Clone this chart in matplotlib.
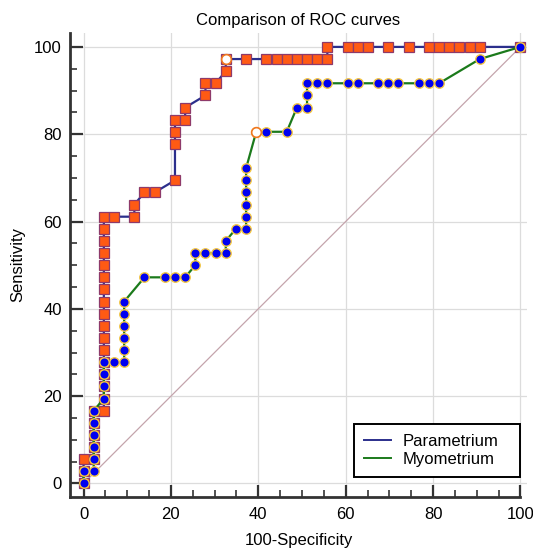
import matplotlib
matplotlib.use('Agg')
import matplotlib.pyplot as plt
from matplotlib.lines import Line2D

plt.rcParams['font.family'] = ['Liberation Sans', 'DejaVu Sans']
plt.rcParams['font.size'] = 12

# Parametrium ROC points (100-Specificity, Sensitivity)
para_x = [0, 0, 0, 2.33, 2.33, 2.33, 2.33, 2.33,
          4.65, 4.65, 4.65, 4.65, 4.65, 4.65, 4.65, 4.65, 4.65,
          4.65, 4.65, 4.65, 4.65, 4.65, 4.65, 4.65, 4.65,
          6.98, 11.63, 11.63, 13.95, 16.28, 20.93, 20.93, 20.93, 20.93,
          23.26, 23.26, 27.91, 27.91, 30.23, 32.56, 32.56, 37.21,
          41.86, 44.19, 46.51, 48.84, 51.16, 53.49, 55.81, 55.81,
          60.47, 62.79, 65.12, 69.77, 74.42, 79.07, 81.40, 83.72,
          86.05, 88.37, 90.70, 100]
para_y = [0, 2.78, 5.56, 5.56, 8.33, 11.11, 13.89, 16.67,
          16.67, 19.44, 22.22, 25.00, 27.78, 30.56, 33.33, 36.11, 38.89,
          41.67, 44.44, 47.22, 50.00, 52.78, 55.56, 58.33, 61.11,
          61.11, 61.11, 63.89, 66.67, 66.67, 69.44, 77.78, 80.56, 83.33,
          83.33, 86.11, 88.89, 91.67, 91.67, 94.44, 97.22, 97.22,
          97.22, 97.22, 97.22, 97.22, 97.22, 97.22, 97.22, 100,
          100, 100, 100, 100, 100, 100, 100, 100,
          100, 100, 100, 100]
para_best = (32.56, 97.22)

# Myometrium ROC points
myo_x = [0, 0, 2.33, 2.33, 2.33, 2.33, 2.33, 2.33,
         4.65, 4.65, 4.65, 4.65, 6.98, 9.30, 9.30, 9.30, 9.30, 9.30, 9.30,
         13.95, 18.60, 20.93, 23.26, 25.58, 25.58, 27.91, 30.23, 32.56, 32.56,
         34.88, 37.21, 37.21, 37.21, 37.21, 37.21, 37.21,
         39.53, 41.86, 46.51, 48.84, 51.16, 51.16, 51.16, 53.49, 55.81,
         60.47, 62.79, 67.44, 69.77, 72.09, 76.74, 79.07, 81.40, 90.70, 100]
myo_y = [0, 2.78, 2.78, 5.56, 8.33, 11.11, 13.89, 16.67,
         19.44, 22.22, 25.00, 27.78, 27.78, 27.78, 30.56, 33.33, 36.11, 38.89, 41.67,
         47.22, 47.22, 47.22, 47.22, 50.00, 52.78, 52.78, 52.78, 52.78, 55.56,
         58.33, 58.33, 61.11, 63.89, 66.67, 69.44, 72.22,
         80.56, 80.56, 80.56, 86.11, 86.11, 88.89, 91.67, 91.67, 91.67,
         91.67, 91.67, 91.67, 91.67, 91.67, 91.67, 91.67, 91.67, 97.22, 100]
myo_best = (39.53, 80.56)

navy = '#2B2F8C'
green = '#1B7A1B'

fig = plt.figure(figsize=(5.33, 5.49), dpi=100)
ax = fig.add_axes([0.1313, 0.0947, 0.8574, 0.8453])

ax.plot([0, 100], [0, 100], color='#C4A4AC', lw=0.9, zorder=1)

ax.plot(para_x, para_y, color=navy, lw=1.6, marker='s', ms=7.2,
        mfc='#FF5A14', mec='#8E3A6A', mew=0.9, zorder=3)
ax.plot(*para_best, marker='o', ms=7, mfc='white', mec='#F07820', mew=1.2, zorder=5)

ax.plot(myo_x, myo_y, color=green, lw=1.6, marker='o', ms=6.8,
        mfc='#0000F0', mec='#F5C842', mew=1.0, zorder=4)
ax.plot(*myo_best, marker='o', ms=7, mfc='white', mec='#F07820', mew=1.2, zorder=5)

ax.set_xlim(-3.1, 101.5)
ax.set_ylim(-3.1, 103.2)
ax.set_xticks(range(0, 101, 20))
ax.set_yticks(range(0, 101, 20))
ax.set_xticks(range(0, 101, 5), minor=True)
ax.set_yticks(range(0, 101, 5), minor=True)
ax.grid(True, which='major', color='#DCDCDC', lw=0.9, zorder=0)
ax.set_axisbelow(True)

for side in ['top', 'right']:
    ax.spines[side].set_visible(False)
for side in ['left', 'bottom']:
    ax.spines[side].set_linewidth(2.0)
    ax.spines[side].set_color('#333333')
ax.spines['bottom'].set_bounds(-3.1, 100)

ax.tick_params(which='major', direction='in', length=9, width=1.6, color='#333333', pad=6)
ax.tick_params(which='minor', direction='in', length=5, width=1.2, color='#333333')
ax.tick_params(axis='x', pad=7)

ax.set_title('Comparison of ROC curves', fontsize=12, pad=6)
ax.set_xlabel('100-Specificity', fontsize=12, labelpad=8)
ax.set_ylabel('Sensitivity', fontsize=12, labelpad=6)

handles = [Line2D([], [], color=navy, lw=1.4), Line2D([], [], color=green, lw=1.4)]
leg = ax.legend(handles, ['Parametrium', 'Myometrium'], loc='lower right',
                bbox_to_anchor=(61.9, 1.45, 38.1, 10), bbox_transform=ax.transData,
                mode='expand', borderaxespad=0, fancybox=False, framealpha=1,
                fontsize=12, handlelength=1.6, handletextpad=0.7,
                borderpad=0.6, labelspacing=0.2)
leg.get_frame().set_edgecolor('black')
leg.get_frame().set_linewidth(1.4)

fig.savefig('out.png', dpi=100)
